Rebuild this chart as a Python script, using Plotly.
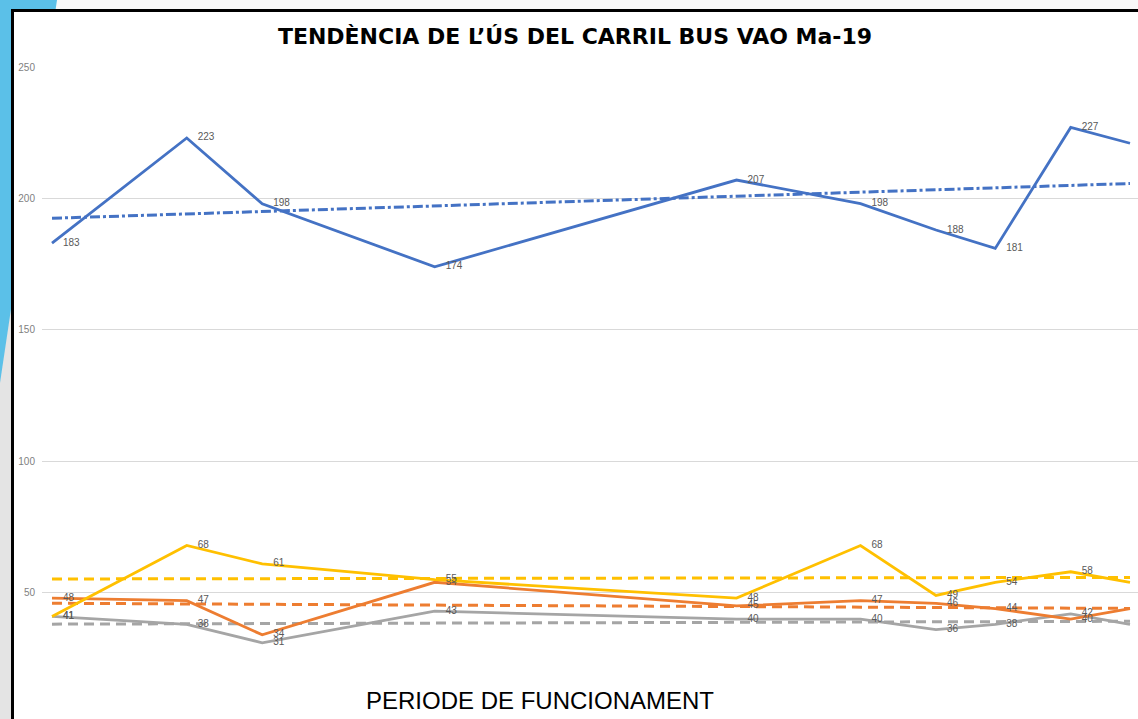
import numpy as np
import plotly.graph_objects as go

# Days since start of each measurement period
dies = [0, 25, 39, 71, 127, 150, 164, 175, 189, 200]

serie_blau = [183, 223, 198, 174, 207, 198, 188, 181, 227, 221]
serie_groc = [41, 68, 61, 55, 48, 68, 49, 54, 58, 54]
serie_taronja = [48, 47, 34, 54, 45, 47, 46, 44, 40, 44]
serie_gris = [41, 38, 31, 43, 40, 40, 36, 38, 42, 38]

y_ticks = [50, 100, 150, 200, 250]

W, H = 1138, 719
L, R, T, B = 42, 0, 67, 0
PW, PH = W - L - R, H - T - B


def px(x):
    return (x - L) / PW


def py(y):
    return (H - B - y) / PH


fig = go.Figure()

series = [
    (serie_gris, "#A5A5A5", "10px,6px"),
    (serie_taronja, "#ED7D31", "10px,6px"),
    (serie_groc, "#FFC000", "10px,6px"),
    (serie_blau, "#4472C4", "10px,3px,3px,3px"),
]

xs = np.array(dies, dtype=float)
for vals, col, dash in series:
    coef = np.polyfit(xs, np.array(vals, dtype=float), 1)
    xt = [xs[0], xs[-1]]
    yt = [coef[0] * xs[0] + coef[1], coef[0] * xs[-1] + coef[1]]
    fig.add_trace(go.Scatter(
        x=xt, y=yt, mode="lines",
        line=dict(color=col, width=3, dash=dash),
        hoverinfo="skip", showlegend=False,
    ))

for vals, col, dash in series:
    fig.add_trace(go.Scatter(
        x=dies, y=vals, mode="lines+markers+text",
        text=[str(v) for v in vals], textposition="middle right",
        textfont=dict(family="Liberation Sans, Arial", size=10, color="#595959"),
        line=dict(color=col, width=2.8),
        marker=dict(size=16, color=col, opacity=0),
        showlegend=False, cliponaxis=True,
    ))

shapes = [
    dict(type="rect", xref="paper", yref="paper", x0=px(0), x1=px(12), y0=py(719), y1=py(0),
         fillcolor="#e4e4e4", line=dict(width=0), layer="below"),
    dict(type="path", xref="paper", yref="paper",
         path=f"M {px(0)},{py(0)} L {px(57)},{py(0)} L {px(0)},{py(383)} Z",
         fillcolor="#5BC0E8", line=dict(width=0), layer="below"),
    dict(type="rect", xref="paper", yref="paper", x0=px(12.5), x1=px(1300), y0=py(900), y1=py(10.5),
         fillcolor="white", line=dict(color="black", width=3), layer="below"),
]

fig.update_layout(
    width=W, height=H,
    margin=dict(l=L, r=R, t=T, b=B, pad=0),
    paper_bgcolor="#f8f8f8",
    plot_bgcolor="rgba(0,0,0,0)",
    shapes=shapes,
    title=dict(
        text="<b>TENDÈNCIA DE L’ÚS DEL CARRIL BUS VAO Ma-19</b>",
        x=575 / W, xanchor="center", xref="container",
        y=1 - 36 / H, yanchor="middle", yref="container",
        font=dict(family="DejaVu Sans, sans-serif", size=22, color="black"),
    ),
    annotations=[dict(
        text="PERIODE DE FUNCIONAMENT", xref="paper", yref="paper",
        x=px(540), y=py(700), xanchor="center", yanchor="middle", showarrow=False,
        font=dict(family="Liberation Sans, Arial", size=24, color="black"),
    )],
    xaxis=dict(
        range=[(L - 52) / 5.39, (W - 52) / 5.39],
        showgrid=False, zeroline=False, showticklabels=False, showline=False,
    ),
    yaxis=dict(
        range=[2, 250], tickvals=y_ticks, ticktext=[str(v) for v in y_ticks],
        showgrid=True, gridcolor="#d9d9d9", gridwidth=1, zeroline=False, showline=False,
        tickfont=dict(family="Liberation Sans, Arial", size=10, color="#7f7f7f"),
        ticklabelstandoff=6,
    ),
    hovermode=False,
)

fig.write_html(
    "out.html",
    config={"displayModeBar": False},
    post_script="document.body.style.margin='0';document.body.style.overflow='hidden';",
)
